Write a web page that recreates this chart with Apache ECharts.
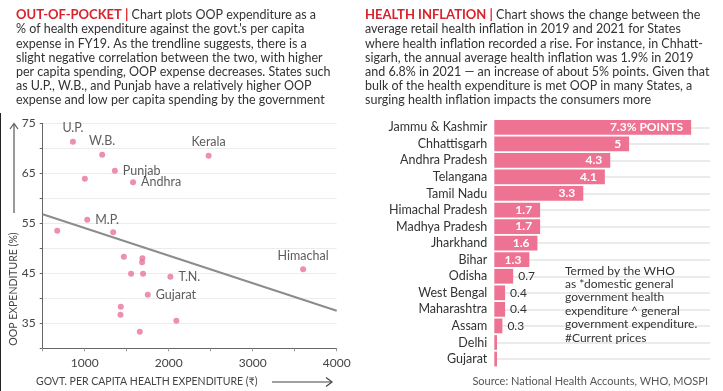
<!DOCTYPE html>
<html><head><meta charset="utf-8">
<script src="https://cdn.jsdelivr.net/npm/echarts@6/dist/echarts.min.js"></script>
<style>html,body{margin:0;padding:0;background:#fff}#c{width:723px;height:391px}</style>
</head><body><div id="c"></div>
<script>
// ---- Left panel: OOP vs govt per capita spending ----
const oopNames = ['U.P.','W.B.','Kerala','Punjab','','Andhra','M.P.','','','','','','','','T.N.','Himachal','Gujarat','','','',''];
const govtPerCapita = [860,1208,2475,1359,1002,1576,1030,673,1339,1466,1687,1683,1552,1695,2020,3600,1751,1430,1426,2091,1656];
const oopShare = [71.3,68.7,68.5,65.5,63.9,63.2,55.7,53.5,53.2,48.3,48.0,47.2,44.9,44.9,44.3,45.8,40.7,38.3,36.7,35.5,33.3];
const trendX = [500, 4000];
const trendY = [56.8, 37.5];
const xTicks = [1000, 2000, 3000, 4000];
const yTicks = [35, 45, 55, 65, 75];

// ---- Right panel: health inflation change ----
const inflStates = ['Jammu & Kashmir','Chhattisgarh','Andhra Pradesh','Telangana','Tamil Nadu','Himachal Pradesh','Madhya Pradesh','Jharkhand','Bihar','Odisha','West Bengal','Maharashtra','Assam','Delhi','Gujarat'];
const inflChange = [7.3,5,4.3,4.1,3.3,1.7,1.7,1.6,1.3,0.7,0.4,0.4,0.3,0.1,0.1];

const labelPos = {'U.P.':'top','W.B.':'top','Kerala':'top','Himachal':'top'};
const FONT = 'Lato, "Noto Sans", sans-serif';
const PINK = '#ee7393';

const chart = echarts.init(document.getElementById('c'), null, {renderer:'canvas'});

const scatterData = govtPerCapita.map((x,i)=>{
  const n = oopNames[i];
  const d = {value:[x, oopShare[i]], name:n};
  if (n) {
    d.label = {show:true, formatter:n, position: labelPos[n] || 'right', distance: labelPos[n] ? 4 : 5};
  }
  return d;
});

const barData = inflChange.map(v => (v < 1 && v >= 0.2) ? {value:v, label:{position:'right', distance:5}} : v);

const leftTitle = '{r|OUT-OF-POCKET |} Chart plots OOP expenditure as a\n% of health expenditure against the govt.\'s per capita\nexpense in FY19. As the trendline suggests, there is a\nslight negative correlation between the two, with higher\nper capita spending, OOP expense decreases. States such\nas U.P., W.B., and Punjab have a relatively higher OOP\nexpense and low per capita spending by the government';
const rightTitle = '{r|HEALTH INFLATION |} Chart shows the change between the\naverage retail health inflation in 2019 and 2021 for States\nwhere health inflation recorded a rise. For instance, in Chhatt-\nsigarh, the annual average health inflation was 1.9% in 2019\nand 6.8% in 2021 — an increase of about 5% points. Given that\nbulk of the health expenditure is met OOP in many States, a\nsurging health inflation impacts the consumers more';

const titleStyle = {fontFamily:FONT, fontSize:12.5, color:'#333', lineHeight:14.2, fontWeight:'normal',
  rich:{r:{color:'#d9222b', fontWeight:'bold', fontSize:13, fontFamily:FONT, lineHeight:14.2}}};

chart.setOption({
  animation:false,
  textStyle:{fontFamily:FONT},
  title:[
    {left:16, top:8, text:leftTitle, textStyle:titleStyle, padding:0},
    {left:365, top:8, text:rightTitle, textStyle:titleStyle, padding:0}
  ],
  grid:[
    {left:42.7, right:386.3, top:123.3, bottom:42.7},
    {left:494.3, right:13, top:119, bottom:23.7}
  ],
  xAxis:[
    {gridIndex:0, type:'value', min:500, max:4000, interval:500,
     axisLine:{show:true, onZero:false, lineStyle:{color:'#666'}},
     axisTick:{show:true, length:3, lineStyle:{color:'#999'}},
     axisLabel:{color:'#444', fontSize:12, margin:9, formatter:v=> xTicks.includes(v) ? String(v) : ''},
     splitLine:{show:false}},
    {gridIndex:1, type:'value', min:0, max:8, show:false}
  ],
  yAxis:[
    {gridIndex:0, type:'value', min:30, max:75, interval:5,
     axisLine:{show:true, onZero:false, lineStyle:{color:'#666'}},
     axisTick:{show:true, length:3, lineStyle:{color:'#666'}},
     axisLabel:{color:'#444', fontSize:12, margin:7, formatter:v=> yTicks.includes(v) ? String(v) : ''},
     splitLine:{show:true, lineStyle:{color:'#ececec', width:1}}},
    {gridIndex:1, type:'category', data:inflStates, inverse:true,
     axisLine:{show:false}, axisTick:{show:false},
     axisLabel:{color:'#333', fontSize:12.5, margin:7, interval:0}}
  ],
  series:[
    {type:'line', xAxisIndex:0, yAxisIndex:0, data:trendX.map((x,i)=>[x,trendY[i]]),
     symbol:'none', lineStyle:{color:'#8c8c8c', width:2}, z:1, silent:true},
    {type:'scatter', xAxisIndex:0, yAxisIndex:0, data:scatterData, symbolSize:6,
     itemStyle:{color:'#e9739c'}, z:3,
     label:{show:false, color:'#333', fontSize:12.5}},
    {type:'line', xAxisIndex:1, yAxisIndex:1, data:[], silent:true, z:1, symbol:'none',
     markLine:{silent:true, symbol:'none', z:1, label:{show:false},
       lineStyle:{color:'#ebebeb', width:2, type:'solid'},
       data: inflStates.map((s,i)=>({yAxis:i}))}},
    {type:'bar', xAxisIndex:1, yAxisIndex:1, data:barData, barCategoryGap:'11%', z:3,
     itemStyle:{color:PINK},
     label:{show:true, formatter:p=>{
        if (p.value < 0.2) return '';
        if (p.dataIndex === 0) return '{w|' + p.value + '% POINTS}';
        if (p.value >= 1) return '{w|' + p.value + '}';
        return '{g|' + p.value + '}';
      }, position:'insideRight', distance:8,
      rich:{w:{color:'#fff', fontWeight:'bold', fontSize:12, fontFamily:FONT},
            g:{color:'#333', fontSize:12, fontFamily:FONT}}}}
  ],
  graphic:[
    {type:'line', z:10, shape:{x1:0.5, y1:113, x2:0.5, y2:391}, style:{stroke:'#222', lineWidth:1}},
    {type:'line', z:10, shape:{x1:14, y1:124, x2:14, y2:213}, style:{stroke:'#555', lineWidth:1.2}},
    {type:'polyline', z:10, shape:{points:[[10,129],[14,123.5],[18,129]]}, style:{stroke:'#555', lineWidth:1.2, fill:null}},
    {type:'text', z:10, x:14, y:289, rotation:Math.PI/2, style:{text:'OOP EXPENDITURE (%)', fill:'#444', font:'10.5px '+FONT, align:'center', verticalAlign:'middle'}},
    {type:'text', z:10, x:36, y:382, style:{text:'GOVT. PER CAPITA HEALTH EXPENDITURE (₹)', fill:'#444', font:'10.5px '+FONT, align:'left', verticalAlign:'middle'}},
    {type:'line', z:10, shape:{x1:272, y1:382, x2:332, y2:382}, style:{stroke:'#444', lineWidth:1.2}},
    {type:'polyline', z:10, shape:{points:[[326,377.5],[332,382],[326,386.5]]}, style:{stroke:'#444', lineWidth:1.2, fill:null}},
    {type:'rect', z:9, shape:{x:562, y:262, width:146, height:82}, style:{fill:'rgba(255,255,255,0)'}},
    {type:'text', z:10, x:565, y:264, style:{text:'Termed by the WHO\nas *domestic general\ngovernment health\nexpenditure ^ general\ngovernment expenditure.\n#Current prices', fill:'#333', font:'12px '+FONT, lineHeight:13.4, align:'left', verticalAlign:'top'}},
    {type:'text', z:10, x:708, y:381, style:{text:'Source: National Health Accounts, WHO, MOSPI', fill:'#555', font:'11px '+FONT, align:'right', verticalAlign:'middle'}}
  ]
});
</script>
</body></html>
